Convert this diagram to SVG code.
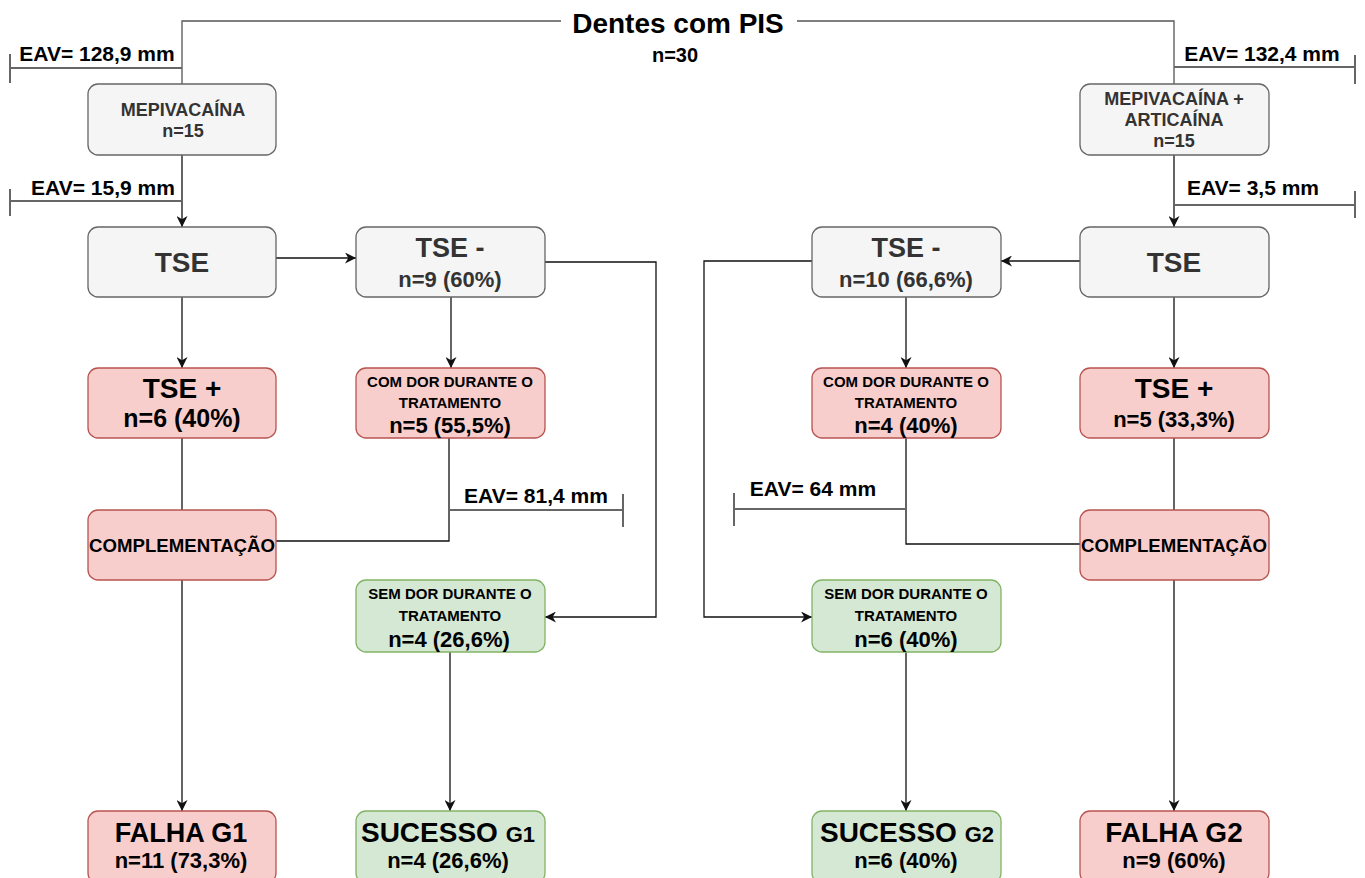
<svg xmlns="http://www.w3.org/2000/svg" width="1365" height="878" viewBox="0 0 1365 878">
<style>
text{font-family:"Liberation Sans",Arial,sans-serif;font-weight:bold;text-anchor:middle}
.g{fill:#f5f5f5;stroke:#666;stroke-width:1.3}
.r{fill:#f8cecc;stroke:#b85450;stroke-width:1.3}
.gr{fill:#d5e8d4;stroke:#82b366;stroke-width:1.3}
.c{fill:none;stroke:#111;stroke-width:1.3}
.e{fill:none;stroke:#666;stroke-width:2}
.t1{fill:#333}
.t2{fill:#000}
.eav{font-size:21px;fill:#000}
.sm{font-size:15px}
</style>
<defs>
<marker id="a" viewBox="0 0 10 10" refX="10" refY="5" markerWidth="11" markerHeight="11" markerUnits="userSpaceOnUse" orient="auto">
<path d="M0,0 L10,5 L0,10 L3,5 z" fill="#111"/>
</marker>
</defs>
<rect width="1365" height="878" fill="#fff"/>

<g id="title">
<text x="678" y="33" font-size="28" class="t2">Dentes com PIS</text>
<text x="675" y="62" font-size="20" class="t2">n=30</text>
</g>

<g id="connectors">
<path class="c" d="M561,21 H182 V84" style="stroke:#555"/>
<path class="c" d="M797,21 H1174 V84" style="stroke:#555"/>
<path class="c" d="M182,155 V227" marker-end="url(#a)"/>
<path class="c" d="M1174,155 V227" marker-end="url(#a)"/>
<path class="c" d="M276,258 H356" marker-end="url(#a)"/>
<path class="c" d="M1080,261 H1001" marker-end="url(#a)"/>
<path class="c" d="M545,262 H656 V617 H545" marker-end="url(#a)"/>
<path class="c" d="M812,261 H704 V617 H812" marker-end="url(#a)"/>
<path class="c" d="M182,297 V368" marker-end="url(#a)"/>
<path class="c" d="M451,297 V368" marker-end="url(#a)"/>
<path class="c" d="M906,297 V368" marker-end="url(#a)"/>
<path class="c" d="M1174,297 V368" marker-end="url(#a)"/>
<path class="c" d="M182,438 V510"/>
<path class="c" d="M1174,438 V510"/>
<path class="c" d="M449,438 V541 H276"/>
<path class="c" d="M906,438 V544 H1080"/>
<path class="c" d="M182,580 V811" marker-end="url(#a)"/>
<path class="c" d="M1174,580 V811" marker-end="url(#a)"/>
<path class="c" d="M450,652 V811" marker-end="url(#a)"/>
<path class="c" d="M906,652 V811" marker-end="url(#a)"/>
</g>

<g id="eav-lines">
<path class="e" d="M182,68 H10 M10,54 V83"/>
<path class="e" d="M182,201 H10 M10,189 V216"/>
<path class="e" d="M1174,67 H1355 M1355,55 V84"/>
<path class="e" d="M1174,205 H1355 M1355,191 V218"/>
<path class="e" d="M449,510 H623 M623,494 V527"/>
<path class="e" d="M906,509 H734 M734,493 V526"/>
</g>

<g id="eav-labels">
<text x="97" y="61" class="eav">EAV= 128,9 mm</text>
<text x="103" y="195" class="eav">EAV= 15,9 mm</text>
<text x="1262" y="61" class="eav">EAV= 132,4 mm</text>
<text x="1253" y="195" class="eav">EAV= 3,5 mm</text>
<text x="536" y="503" class="eav">EAV= 81,4 mm</text>
<text x="813" y="496" class="eav">EAV= 64 mm</text>
</g>

<g id="n-mepi">
<rect class="g" x="88" y="84" width="188" height="71" rx="10"/>
<text x="183" y="116" font-size="18" class="t1">MEPIVACAÍNA</text>
<text x="183" y="137" font-size="18" class="t1">n=15</text>
</g>
<g id="n-mepi-arti">
<rect class="g" x="1080" y="84" width="189" height="71" rx="10"/>
<text x="1174" y="105" font-size="18" class="t1">MEPIVACAÍNA +</text>
<text x="1174" y="126" font-size="18" class="t1">ARTICAÍNA</text>
<text x="1174" y="147" font-size="18" class="t1">n=15</text>
</g>

<g id="n-tse-l">
<rect class="g" x="88" y="227" width="188" height="70" rx="10"/>
<text x="182" y="272" font-size="28" class="t1">TSE</text>
</g>
<g id="n-tseneg-l">
<rect class="g" x="356" y="227" width="189" height="70" rx="10"/>
<text x="450" y="257" font-size="27" class="t1">TSE -</text>
<text x="450" y="287" font-size="22" class="t1">n=9 (60%)</text>
</g>
<g id="n-tseneg-r">
<rect class="g" x="812" y="227" width="189" height="70" rx="10"/>
<text x="906" y="257" font-size="27" class="t1">TSE -</text>
<text x="906" y="287" font-size="22" class="t1">n=10 (66,6%)</text>
</g>
<g id="n-tse-r">
<rect class="g" x="1080" y="227" width="189" height="70" rx="10"/>
<text x="1174" y="272" font-size="28" class="t1">TSE</text>
</g>

<g id="n-tsepos-l">
<rect class="r" x="88" y="368" width="188" height="70" rx="10"/>
<text x="182" y="398" font-size="28" class="t2">TSE +</text>
<text x="182" y="427" font-size="25" class="t2">n=6 (40%)</text>
</g>
<g id="n-comdor-l">
<rect class="r" x="356" y="368" width="189" height="70" rx="10"/>
<text x="450" y="387" class="t2 sm">COM DOR DURANTE O</text>
<text x="450" y="408" class="t2 sm">TRATAMENTO</text>
<text x="450" y="433" font-size="22" class="t2">n=5 (55,5%)</text>
</g>
<g id="n-comdor-r">
<rect class="r" x="812" y="368" width="189" height="70" rx="10"/>
<text x="906" y="387" class="t2 sm">COM DOR DURANTE O</text>
<text x="906" y="408" class="t2 sm">TRATAMENTO</text>
<text x="906" y="433" font-size="22" class="t2">n=4 (40%)</text>
</g>
<g id="n-tsepos-r">
<rect class="r" x="1080" y="368" width="189" height="70" rx="10"/>
<text x="1174" y="398" font-size="28" class="t2">TSE +</text>
<text x="1174" y="427" font-size="22" class="t2">n=5 (33,3%)</text>
</g>

<g id="n-compl-l">
<rect class="r" x="88" y="510" width="188" height="70" rx="10"/>
<text x="182" y="552" font-size="19" class="t2" textLength="186" lengthAdjust="spacingAndGlyphs">COMPLEMENTAÇÃO</text>
</g>
<g id="n-compl-r">
<rect class="r" x="1080" y="510" width="189" height="70" rx="10"/>
<text x="1174" y="552" font-size="19" class="t2" textLength="186" lengthAdjust="spacingAndGlyphs">COMPLEMENTAÇÃO</text>
</g>

<g id="n-semdor-l">
<rect class="gr" x="356" y="580" width="189" height="72" rx="10"/>
<text x="450" y="599" class="t2 sm">SEM DOR DURANTE O</text>
<text x="450" y="621" class="t2 sm">TRATAMENTO</text>
<text x="449" y="647" font-size="22" class="t2">n=4 (26,6%)</text>
</g>
<g id="n-semdor-r">
<rect class="gr" x="812" y="580" width="189" height="72" rx="10"/>
<text x="906" y="599" class="t2 sm">SEM DOR DURANTE O</text>
<text x="906" y="621" class="t2 sm">TRATAMENTO</text>
<text x="906" y="647" font-size="22" class="t2">n=6 (40%)</text>
</g>

<g id="n-falha-g1">
<rect class="r" x="88" y="811" width="188" height="72" rx="10"/>
<text x="181" y="842" font-size="27" class="t2">FALHA G1</text>
<text x="181" y="868" font-size="22" class="t2">n=11 (73,3%)</text>
</g>
<g id="n-sucesso-g1">
<rect class="gr" x="356" y="811" width="189" height="72" rx="10"/>
<text x="448" y="842" font-size="28" class="t2">SUCESSO <tspan font-size="22">G1</tspan></text>
<text x="448" y="868" font-size="22" class="t2">n=4 (26,6%)</text>
</g>
<g id="n-sucesso-g2">
<rect class="gr" x="812" y="811" width="189" height="72" rx="10"/>
<text x="907" y="842" font-size="28" class="t2">SUCESSO <tspan font-size="22">G2</tspan></text>
<text x="906" y="868" font-size="22" class="t2">n=6 (40%)</text>
</g>
<g id="n-falha-g2">
<rect class="r" x="1080" y="811" width="189" height="72" rx="10"/>
<text x="1174" y="842" font-size="28" class="t2">FALHA G2</text>
<text x="1174" y="868" font-size="22" class="t2">n=9 (60%)</text>
</g>
</svg>
